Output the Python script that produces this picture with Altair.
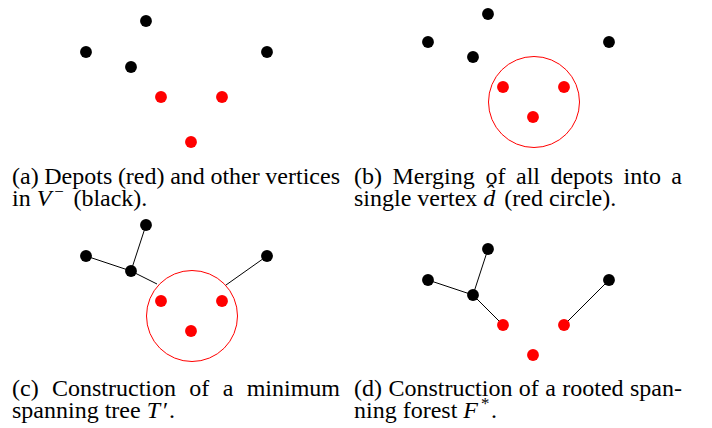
import altair as alt
import pandas as pd

# ---------------- data ----------------
PANELS = ["a", "b", "c", "d"]

# vertex positions (panel-local units, y downward)
BLACK_X = [138, 78, 123, 259]
RED_X = [153, 214, 183]
BLACK_Y = {"a": [13, 44, 59, 44], "b": [6, 34, 49, 34], "c": [5, 36, 51, 36], "d": [29, 60, 75, 60]}
RED_Y = {"a": [89, 89, 134], "b": [79, 79, 109], "c": [81, 81, 111], "d": [105, 105, 135]}

# merged depot vertex (red circle)
MERGED_PANELS = ["b", "c"]
MERGED_X = [184, 184]
MERGED_Y = [94, 96]

# edges of the spanning tree / forest
EDGE_PANELS = ["c", "d"]
EDGE_X1 = {"c": [78, 138, 123, 259], "d": [78, 138, 123, 259]}
EDGE_Y1 = {"c": [36, 5, 51, 36], "d": [60, 29, 75, 60]}
EDGE_X2 = {"c": [123, 123, 149, 218], "d": [123, 123, 153, 214]}
EDGE_Y2 = {"c": [51, 51, 64, 65], "d": [75, 75, 105, 105]}

# captions: lines -> words -> (text, style) segments
CAPTION_LINES = {
    "a": [["(a)", "Depots", "(red)", "and", "other", "vertices"],
          ["in", [("V", "it"), ("\u2212", "sup")], "(black)."]],
    "b": [["(b)", "Merging", "of", "all", "depots", "into", "a"],
          ["single", "vertex", [("d\u0302", "it")], "(red", "circle)."]],
    "c": [["(c)", "Construction", "of", "a", "minimum"],
          ["spanning", "tree", [("T", "it"), ("\u2032", "rm"), (".", "rm")]]],
    "d": [["(d)", "Construction", "of", "a", "rooted", "span-"],
          ["ning", "forest", [("F", "it"), ("*", "sup"), (".", "rm")]]],
}

# ---------------- layout ----------------
W, H = 696, 416
COL_OFFSET = {"a": 0, "b": 342, "c": 0, "d": 342}
ROW_OFFSET = {"a": 0, "b": 0, "c": 212, "d": 212}
FS = 24
SUP_SCALE = 0.7
SUP_RAISE = 9
ITALIC_CORR = 3
CAP_X0 = 4
LINE_W = 328
BASELINES = [176, 198]
JUSTIFIED = [True, False]

RM = {' ': 250, '(': 333, ')': 333, '.': 250, '-': 333, 'a': 444, 'b': 500, 'c': 444,
      'd': 500, 'e': 444, 'f': 333, 'g': 500, 'h': 500, 'i': 278, 'k': 500, 'l': 278,
      'm': 778, 'n': 500, 'o': 500, 'p': 500, 'r': 333, 's': 389, 't': 278, 'u': 500,
      'v': 500, 'x': 500, 'y': 500, 'C': 667, 'D': 722, 'M': 889, '\u2032': 250,
      '\u2212': 778, '*': 600}
IT = {'V': 611, 'T': 556, 'F': 611, 'd': 500, '\u0302': 0}


def seg_size(style):
    return FS * SUP_SCALE if style == "sup" else FS


def seg_width(text, style):
    table = IT if style == "it" else RM
    w = sum(table.get(ch, 500) for ch in text) * seg_size(style) / 1000.0
    return w + (ITALIC_CORR if style == "it" else 0)


text_rows = []
for p in PANELS:
    for li, line in enumerate(CAPTION_LINES[p]):
        words = [[(w, "rm")] if isinstance(w, str) else w for w in line]
        widths = [sum(seg_width(t, s) for t, s in wd) for wd in words]
        if JUSTIFIED[li] and len(words) > 1:
            gap = (LINE_W - sum(widths)) / (len(words) - 1)
        else:
            gap = 0.25 * FS
        x = CAP_X0
        for wd, ww in zip(words, widths):
            for t, s in wd:
                y = BASELINES[li] - (SUP_RAISE if s == "sup" else 0)
                text_rows.append(dict(gx=x + COL_OFFSET[p], gy=y + ROW_OFFSET[p], text=t,
                                      size=seg_size(s), style="it" if s == "it" else "rm"))
                x += seg_width(t, s)
            x += gap
text_df = pd.DataFrame(text_rows)

vert_rows = []
for p in PANELS:
    for x, y in zip(BLACK_X, BLACK_Y[p]):
        vert_rows.append(dict(gx=x + COL_OFFSET[p], gy=y + ROW_OFFSET[p], kind="vertex"))
    for x, y in zip(RED_X, RED_Y[p]):
        vert_rows.append(dict(gx=x + COL_OFFSET[p], gy=y + ROW_OFFSET[p], kind="depot"))
vert_df = pd.DataFrame(vert_rows)

circ_df = pd.DataFrame([dict(gx=x + COL_OFFSET[p], gy=y + ROW_OFFSET[p])
                        for p, x, y in zip(MERGED_PANELS, MERGED_X, MERGED_Y)])

edge_rows = []
for p in EDGE_PANELS:
    for x1, y1, x2, y2 in zip(EDGE_X1[p], EDGE_Y1[p], EDGE_X2[p], EDGE_Y2[p]):
        edge_rows.append(dict(x1=x1 + COL_OFFSET[p], y1=y1 + ROW_OFFSET[p],
                              x2=x2 + COL_OFFSET[p], y2=y2 + ROW_OFFSET[p]))
edge_df = pd.DataFrame(edge_rows)

XS = alt.Scale(domain=[0, W], nice=False, zero=False)
YS = alt.Scale(domain=[0, H], nice=False, zero=False, reverse=True)

edges = alt.Chart(edge_df).mark_rule(color="black", strokeWidth=1).encode(
    x=alt.X("x1:Q", scale=XS, axis=None), y=alt.Y("y1:Q", scale=YS, axis=None),
    x2="x2:Q", y2="y2:Q")

merged = alt.Chart(circ_df).mark_point(
    shape="circle", filled=False, size=8281, color="#ff0000", strokeWidth=1, opacity=1
).encode(x=alt.X("gx:Q", scale=XS, axis=None), y=alt.Y("gy:Q", scale=YS, axis=None))

dots = alt.Chart(vert_df).mark_circle(size=140, opacity=1).encode(
    x=alt.X("gx:Q", scale=XS, axis=None), y=alt.Y("gy:Q", scale=YS, axis=None),
    color=alt.Color("kind:N", scale=alt.Scale(domain=["vertex", "depot"],
                                              range=["#000000", "#ff0000"]), legend=None))

text_rm = alt.Chart(text_df).transform_filter(alt.datum.style == "rm").mark_text(
    align="left", baseline="alphabetic", font="Liberation Serif", color="black"
).encode(x=alt.X("gx:Q", scale=XS, axis=None), y=alt.Y("gy:Q", scale=YS, axis=None),
         text="text:N", size=alt.Size("size:Q", scale=None))

text_it = alt.Chart(text_df).transform_filter(alt.datum.style == "it").mark_text(
    align="left", baseline="alphabetic", font="Liberation Serif", fontStyle="italic",
    color="black"
).encode(x=alt.X("gx:Q", scale=XS, axis=None), y=alt.Y("gy:Q", scale=YS, axis=None),
         text="text:N", size=alt.Size("size:Q", scale=None))

chart = alt.layer(edges, merged, dots, text_rm, text_it).properties(
    width=W, height=H, padding=0, autosize=alt.AutoSizeParams(type="none")
).configure_view(stroke=None)

chart.save("out.html", embed_options={"renderer": "svg", "actions": False})
